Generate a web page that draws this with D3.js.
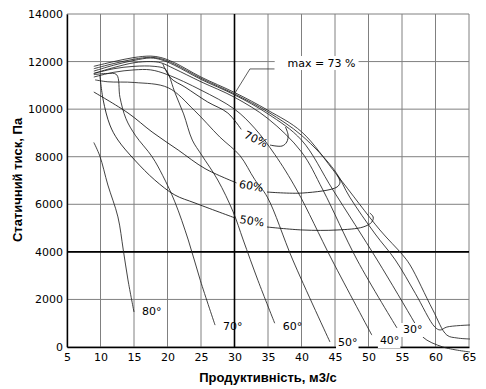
<!DOCTYPE html>
<html>
<head>
<meta charset="utf-8">
<script src="https://cdn.jsdelivr.net/npm/d3@7"></script>
<style>
  body { margin: 0; background: #fff; }
</style>
</head>
<body>
<script>
// tick values
const xTicks = [5, 10, 15, 20, 25, 30, 35, 40, 45, 50, 55, 60, 65];
const yTicks = [0, 2000, 4000, 6000, 8000, 10000, 12000, 14000];
const boldX = [30];
const boldY = [4000];

// fan curves: [flow m3/s, static pressure Pa]
const curve80 = [[9.0, 8600], [9.9, 8030], [11.1, 6810], [12.6, 5470], [13.4, 4080], [14.1, 2820], [15.0, 1470]];
const curve70 = [[9, 11450], [11, 11500], [12.4, 11450], [12.9, 10500], [13.8, 9600], [15.2, 8900], [17.7, 8000],
  [19.3, 7200], [21.1, 6100], [23.1, 4500], [24.9, 2800], [27.1, 920]];
const curve60 = [[9, 11500], [12, 11700], [15, 11800], [18, 11800], [19.6, 11700], [20.1, 11500], [21.1, 10700],
  [22.4, 9800], [23.7, 8700], [25.1, 8070], [27.5, 7020], [29.8, 5680], [31.3, 4500], [33.5, 2800], [36.0, 1000]];
const curve50 = [[9.2, 11230], [11.1, 11150], [15.1, 11120], [20.1, 10900], [24, 9950], [27.8, 8830], [30.8, 8050],
  [33, 7050], [34.9, 6300], [38.7, 3660], [44.25, 210]];
const curve45 = [[9, 11350], [12, 11550], [15, 11650], [17.5, 11650], [20, 11450], [25, 10800], [30, 10000],
  [33, 9200], [36, 8100], [39.3, 6600], [44.55, 3660], [50.5, 500]];
const curve40 = [[9, 11500], [12, 11750], [15, 11950], [17.5, 12000], [19, 11950], [21, 11700], [25, 11150],
  [30, 10500], [35, 9600], [40, 8200], [43.2, 6600], [48.3, 3660], [54.25, 800]];
const curve35 = [[9, 11600], [12, 11850], [15, 12050], [17.5, 12150], [19, 12080], [21, 11850], [25, 11250],
  [30, 10600], [35, 9800], [40, 8700], [44.7, 6600], [51.3, 3660], [56.9, 1010], [58.1, 420], [61.1, 0], [65.15, -210]];
const curve30a = [[9, 11700], [12, 11920], [15, 12100], [17.5, 12180], [19, 12120], [21, 11900], [25, 11300],
  [30, 10640], [35, 9880], [40, 8900], [45, 7400], [47.2, 6300], [51, 4750], [54, 3660], [57, 2250], [59.9, 840],
  [60.7, 715], [61.7, 840], [65.15, 925]];
const curve30b = [[9, 11800], [12, 12000], [15, 12170], [17.5, 12230], [19, 12170], [21, 11960], [25, 11350],
  [30, 10700], [35, 9950], [40, 9050], [45.3, 7230], [51.7, 4920], [55, 3900], [56.2, 3450], [59.6, 1560],
  [61.7, 500], [63.2, 380], [65.15, 336]];
const fanCurves = [curve80, curve70, curve60, curve50, curve45, curve40, curve35, curve30a, curve30b];

// efficiency lines, split where the label sits
const eff70Left = [[19.3, 11900], [20.5, 11300], [22.6, 10930], [26, 10300], [29, 9837], [31.0, 9150]];
const eff70Right = [[35.3, 8490], [37.1, 8450], [37.8, 8618], [38.0, 8912], [37.6, 9250]];
const eff60Left = [[9, 10720], [14.1, 9840], [17.7, 9040], [21.6, 8280], [25.6, 7500], [30.3, 6900]];
const eff60Right = [[34.85, 6516], [40.2, 6474], [45.3, 6726], [45.75, 6936], [45.3, 7231]];
const eff50Left = [[9.9, 11435], [10.4, 10384], [11.4, 9333], [12.6, 8702], [15.1, 7861], [18.1, 7020],
  [21.1, 6390], [24.1, 6054], [30.1, 5423]];
const eff50Right = [[34.85, 5045], [40.2, 4919], [45.3, 4919], [49.2, 5045], [50.5, 5255], [50.7, 5465], [50.2, 5634]];
const effLines = [eff70Left, eff70Right, eff60Left, eff60Right, eff50Left, eff50Right];
const maxLeader = [[36.0, 11690], [32.3, 11690], [29.9, 10600]];

// labels
const effLabels = [
  { text: "70%", at: [33.2, 8740], angle: 25 },
  { text: "60%", at: [32.5, 6770], angle: 10 },
  { text: "50%", at: [32.6, 5300], angle: 8 }
];
const angleLabels = [
  { text: "80°", at: [16.2, 1345], box: false },
  { text: "70°", at: [28.3, 715], box: false },
  { text: "60°", at: [37.2, 715], box: false },
  { text: "50°", at: [45.45, 42], box: true },
  { text: "40°", at: [51.7, 126], box: true },
  { text: "30°", at: [55.15, 589], box: true }
];
const maxLabel = { text: "max = 73 %", at: [37.9, 11771] };
const xTitle = "Продуктивність, м3/с";
const yTitle = "Статичний тиск, Па";

const width = 486, height = 389;
const svg = d3.select("body").append("svg")
  .attr("width", width)
  .attr("height", height)
  .style("font-family", "'DejaVu Sans', sans-serif");

const x = d3.scaleLinear().domain([5, 65]).range([67, 469]);
const y = d3.scaleLinear().domain([0, 14000]).range([347, 14]);

// grid
svg.append("g").selectAll("line").data(xTicks).enter().append("line")
  .attr("x1", d => x(d)).attr("x2", d => x(d))
  .attr("y1", y(0)).attr("y2", y(14000))
  .attr("stroke", "#808080").attr("stroke-width", 1);
svg.append("g").selectAll("line").data(yTicks).enter().append("line")
  .attr("y1", d => y(d)).attr("y2", d => y(d))
  .attr("x1", x(5)).attr("x2", x(65))
  .attr("stroke", "#808080").attr("stroke-width", 1);

// heavy reference lines
svg.append("g").selectAll("line").data(boldX).enter().append("line")
  .attr("x1", d => x(d)).attr("x2", d => x(d))
  .attr("y1", y(0)).attr("y2", y(14000))
  .attr("stroke", "#000").attr("stroke-width", 1.6);
svg.append("g").selectAll("line").data(boldY).enter().append("line")
  .attr("y1", d => y(d)).attr("y2", d => y(d))
  .attr("x1", x(5)).attr("x2", x(65))
  .attr("stroke", "#000").attr("stroke-width", 1.6);

// axes (domain line + tick labels)
const xAxis = d3.axisBottom(x).tickValues(xTicks).tickSize(0).tickPadding(6).tickFormat(d3.format("d"));
const gx = svg.append("g").attr("transform", `translate(0,${y(0)})`).call(xAxis);
gx.select(".domain").attr("stroke", "#000").attr("stroke-width", 1.6);
gx.selectAll("text").style("font-size", "11px").style("font-family", "'DejaVu Sans', sans-serif").attr("fill", "#000");

const yAxis = d3.axisLeft(y).tickValues(yTicks).tickSize(0).tickPadding(4).tickFormat(d3.format("d"));
const gy = svg.append("g").attr("transform", `translate(${x(5)},0)`).call(yAxis);
gy.select(".domain").attr("stroke", "#000").attr("stroke-width", 1.4);
gy.selectAll("text").style("font-size", "11px").style("font-family", "'DejaVu Sans', sans-serif").attr("fill", "#000");

// curves
const line = d3.line().x(d => x(d[0])).y(d => y(d[1])).curve(d3.curveCatmullRom.alpha(0.5));

svg.append("g").selectAll("path").data(fanCurves).enter().append("path")
  .attr("d", line)
  .attr("fill", "none")
  .attr("stroke", "#222")
  .attr("stroke-width", 0.85);

svg.append("g").selectAll("path").data(effLines).enter().append("path")
  .attr("d", line)
  .attr("fill", "none")
  .attr("stroke", "#111")
  .attr("stroke-width", 0.85);

svg.append("path")
  .attr("d", d3.line().x(d => x(d[0])).y(d => y(d[1]))(maxLeader))
  .attr("fill", "none").attr("stroke", "#333").attr("stroke-width", 0.8);

// max label with white box over the grid
const mx = svg.append("g");
const mt = mx.append("text")
  .attr("x", x(maxLabel.at[0])).attr("y", y(maxLabel.at[1]))
  .style("font-size", "11px")
  .text(maxLabel.text);
const mb = mt.node().getBBox();
mx.insert("rect", "text")
  .attr("x", x(36.0)).attr("y", mb.y - 1)
  .attr("width", mb.x + mb.width + 3 - x(36.0)).attr("height", mb.height + 1)
  .attr("fill", "#fff");

// efficiency labels
svg.append("g").selectAll("text").data(effLabels).enter().append("text")
  .attr("transform", d => `translate(${x(d.at[0])},${y(d.at[1])}) rotate(${d.angle})`)
  .attr("text-anchor", "middle")
  .attr("dy", "0.35em")
  .style("font-size", "11px")
  .text(d => d.text);

// blade angle labels
const ag = svg.append("g").selectAll("g").data(angleLabels).enter().append("g");
ag.append("text")
  .attr("x", d => x(d.at[0])).attr("y", d => y(d.at[1]))
  .style("font-size", "11px")
  .text(d => d.text);
ag.filter(d => d.box).each(function() {
  const g = d3.select(this);
  const b = g.select("text").node().getBBox();
  g.insert("rect", "text")
    .attr("x", b.x - 2).attr("y", b.y)
    .attr("width", b.width + 3).attr("height", b.height + 1)
    .attr("fill", "#fff");
});

// axis titles
svg.append("text")
  .attr("x", 268).attr("y", 382)
  .attr("text-anchor", "middle")
  .style("font-family", "'Liberation Sans', Arial, sans-serif")
  .style("font-weight", "bold")
  .style("font-size", "13px")
  .text(xTitle);

svg.append("text")
  .attr("transform", "translate(22,180) rotate(-90)")
  .attr("text-anchor", "middle")
  .style("font-family", "'Liberation Sans', Arial, sans-serif")
  .style("font-weight", "bold")
  .style("font-size", "13px")
  .text(yTitle);
</script>
</body>
</html>
